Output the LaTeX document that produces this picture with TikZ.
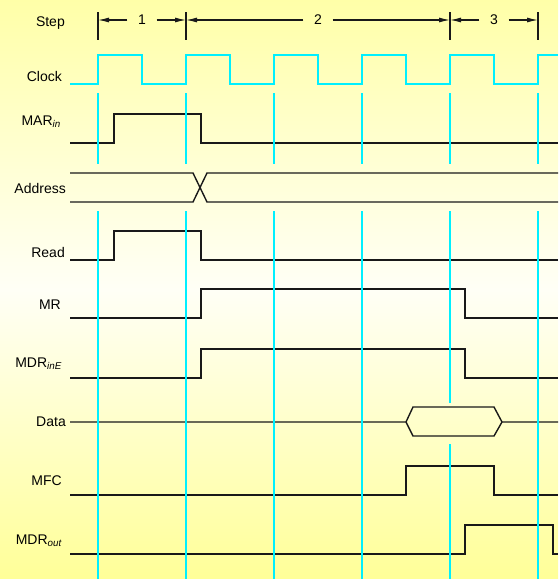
\documentclass[tikz,border=0pt]{standalone}
\usepackage{fontspec}
\setmainfont{Liberation Sans}
\usetikzlibrary{arrows.meta}
\definecolor{sigblack}{RGB}{25,25,25}
\definecolor{clkcyan}{RGB}{0,240,255}
\definecolor{bgtop}{RGB}{255,255,168}
\definecolor{bgmid}{RGB}{255,255,246}
\definecolor{bgbot}{RGB}{255,255,152}
\tikzset{
  sig/.style={draw=sigblack, line width=1.4pt, line join=miter},
  clk/.style={draw=clkcyan, line width=1.5pt},
  guide/.style={draw=clkcyan, line width=1.5pt},
  lbl/.style={inner sep=0pt, anchor=base east, font=\fontsize{14}{16}\selectfont},
  stick/.style={draw=sigblack, line width=1.3pt},
  sarrow/.style={draw=sigblack, line width=1.1pt, -{Latex[length=11pt,width=5pt]}},
  snum/.style={inner ysep=0pt, inner xsep=10.5pt, font=\fontsize{14}{16}\selectfont},
}
\begin{document}
\begin{tikzpicture}[x=1pt,y=-1pt]
\shade[top color=bgtop, bottom color=bgbot, middle color=bgmid] (0,0) rectangle (558,579);
\useasboundingbox (0,0) rectangle (558,579);

% labels
\node[lbl] (lstep) at (65,26.5) {Step};
\node[lbl] (lclk) at (62,81) {Clock};
\node[lbl] (lmar) at (61,125) {MAR\textsubscript{\itshape in}};
\node[lbl] (laddr) at (66,193) {Address};
\node[lbl] (lread) at (65,257) {Read};
\node[lbl] (lmr) at (61,309) {MR};
\node[lbl] (lmdri) at (62,367.5) {MDR\textsubscript{\itshape inE}};
\node[lbl] (ldata) at (66,426) {Data};
\node[lbl] (lmfc) at (62,485) {MFC};
\node[lbl] (lmdro) at (62,544) {MDR\textsubscript{\itshape out}};

% step row
\coordinate (t1) at (98,20);
\coordinate (t2) at (186,20);
\coordinate (t3) at (450,20);
\coordinate (t4) at (538,20);
\foreach \x in {98,186,450,538} \draw[stick] (\x,12) -- (\x,40);
\node[snum] (s1) at (142,20) {1};
\node[snum] (s2) at (318,20) {2};
\node[snum] (s3) at (494,20) {3};
\draw[sarrow] (s1.west) -- (t1);
\draw[sarrow] (s1.east) -- (t2);
\draw[sarrow] (s2.west) -- (t2);
\draw[sarrow] (s2.east) -- (t3);
\draw[sarrow] (s3.west) -- (t3);
\draw[sarrow] (s3.east) -- (t4);

% clock
\draw[clk] (70,84) -| (98,55) -| (142,84) -| (186,55) -| (230,84) -| (274,55)
  -| (318,84) -| (362,55) -| (406,84) -| (450,55) -| (494,84) -| (538,55) -- (558,55);

% signals
\draw[sig] (70,143) -| (114,114) -| (201,143) -- (558,143);
\draw[sig] (70,173) -- (193,173) -- (207,202) -- (558,202);
\draw[sig] (70,202) -- (193,202) -- (207,173) -- (558,173);
\draw[sig] (70,260) -| (114,231) -| (201,260) -- (558,260);
\draw[sig] (70,318) -| (201,289) -| (465,318) -- (558,318);
\draw[sig] (70,378) -| (201,349) -| (465,378) -- (558,378);
\draw[sig] (70,422) -- (406,422) -- (413,407) -- (494,407) -- (502,422) -- (558,422);
\draw[sig] (406,422) -- (413,436) -- (494,436) -- (502,422);
\draw[sig] (70,495) -| (406,466) -| (494,495) -- (558,495);
\draw[sig] (70,554) -| (465,525) -| (553,554) -- (558,554);

% guide lines
\foreach \x in {98,186,274,362,450,538} \draw[guide] (\x,93) -- (\x,164);
\foreach \x in {98,186,274,362,538} \draw[guide] (\x,211) -- (\x,579);
\draw[guide] (450,211) -- (450,403);
\draw[guide] (450,444) -- (450,579);
\end{tikzpicture}
\end{document}
